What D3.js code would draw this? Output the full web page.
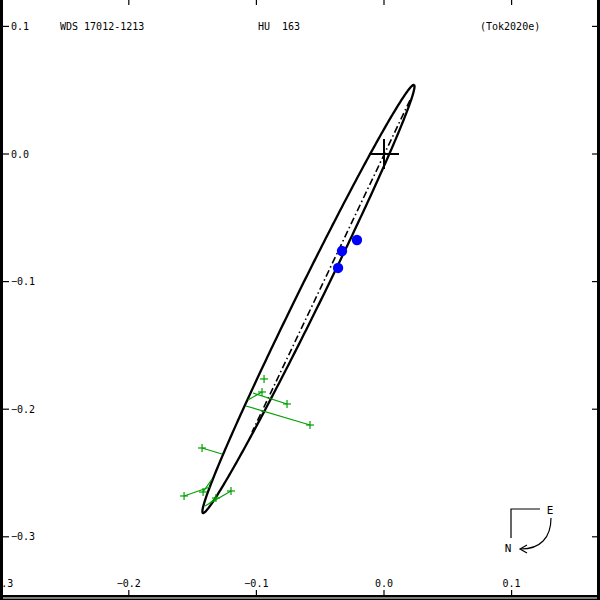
<!DOCTYPE html>
<html><head><meta charset="utf-8">
<script src="https://cdn.jsdelivr.net/npm/d3@7"></script>
<style>body{margin:0;background:#fff}svg{display:block}</style>
</head><body>
<script>
// ---- data ----
const xTicks = [-0.3, -0.2, -0.1, 0.0, 0.1];
const yTicks = [0.1, 0.0, -0.1, -0.2, -0.3];
const titleLabels = ["WDS 17012-1213", "HU  163", "(Tok2020e)"];
// apparent orbit ellipse (arcsec): centre, semi-axes, position angle of major axis (deg)
const orbitCenter = [-0.0592, -0.1136];
const orbitAxes = [0.1870, 0.00915];
const orbitAngle = 63.75;
// line of nodes endpoints
const nodeX = [0.0204, -0.1034];
const nodeY = [0.0423, -0.2179];
// recent measures (blue)
const blueX = [-0.0212, -0.0329, -0.0360];
const blueY = [-0.0674, -0.0760, -0.0893];
// older measures (green) and their predicted positions
const obsX  = [-0.0940, -0.0956, -0.0760, -0.0580, -0.1426, -0.1567, -0.1418, -0.1317, -0.1199];
const obsY  = [-0.1763, -0.1865, -0.1959, -0.2124, -0.2304, -0.2680, -0.2649, -0.2696, -0.2641];
const predX = [-0.0940, -0.1066, -0.1027, -0.1082, -0.1270, -0.1364, -0.1348, -0.1364, -0.1403];
const predY = [-0.1763, -0.1928, -0.1873, -0.1975, -0.2351, -0.2610, -0.2547, -0.2735, -0.2759];

// ---- drawing ----
const W = 600, H = 600;
const k = 1276;
const x = d3.scaleLinear().domain([-0.3, 0.1]).range([384 - 0.3 * k, 384 + 0.1 * k]);
const y = d3.scaleLinear().domain([-0.3, 0.1]).range([154 + 0.3 * k, 154 - 0.1 * k]);

const svg = d3.select("body").append("svg").attr("width", W).attr("height", H);
const font = "'DejaVu Sans Mono', monospace";

// frame
svg.append("rect").attr("x", 0).attr("y", 0).attr("width", 3).attr("height", 600).attr("fill", "#000");
svg.append("rect").attr("x", 597).attr("y", 0).attr("width", 3).attr("height", 600).attr("fill", "#000");
svg.append("rect").attr("x", 0).attr("y", 595).attr("width", 600).attr("height", 2.5).attr("fill", "#000");
svg.append("rect").attr("x", 0).attr("y", 598.5).attr("width", 600).attr("height", 1.5).attr("fill", "#000");

// ticks
const tk = svg.append("g").attr("stroke", "#000").attr("stroke-width", 1.2);
xTicks.forEach(v => {
  tk.append("line").attr("x1", x(v)).attr("x2", x(v)).attr("y1", 0).attr("y2", 5);
  tk.append("line").attr("x1", x(v)).attr("x2", x(v)).attr("y1", 590).attr("y2", 595);
});
yTicks.forEach(v => {
  tk.append("line").attr("x1", 3).attr("x2", 9).attr("y1", y(v)).attr("y2", y(v));
  tk.append("line").attr("x1", 592).attr("x2", 597).attr("y1", y(v)).attr("y2", y(v));
});
const fmt = d3.format(".1f");
svg.append("g").selectAll("text").data(xTicks).join("text")
  .attr("x", d => x(d)).attr("y", 587).attr("text-anchor", "middle")
  .attr("font-family", font).attr("font-size", 10).text(d => fmt(d));
svg.append("g").selectAll("text").data(yTicks).join("text")
  .attr("x", 11).attr("y", d => y(d) + 3.6)
  .attr("font-family", font).attr("font-size", 10).text(d => fmt(d));
// re-cover left border over clipped label
svg.append("rect").attr("x", 0).attr("y", 0).attr("width", 3).attr("height", 600).attr("fill", "#000");

// titles
const titleX = [60, 258, 480];
svg.append("g").selectAll("text").data(titleLabels).join("text")
  .attr("x", (d, i) => titleX[i]).attr("y", 30)
  .attr("font-family", font).attr("font-size", 10)
  .style("white-space", "pre").attr("xml:space", "preserve").text(d => d);

// orbit ellipse
const th = orbitAngle * Math.PI / 180;
const pts = d3.range(0, 361, 1).map(t => {
  const a = t * Math.PI / 180;
  const u = orbitAxes[0] * Math.cos(a), v = orbitAxes[1] * Math.sin(a);
  return [orbitCenter[0] + u * Math.cos(th) - v * Math.sin(th),
          orbitCenter[1] + u * Math.sin(th) + v * Math.cos(th)];
});
svg.append("path").datum(pts)
  .attr("d", d3.line().x(d => x(d[0])).y(d => y(d[1])))
  .attr("fill", "none").attr("stroke", "#000").attr("stroke-width", 2.3);

// line of nodes
svg.append("line").attr("x1", x(nodeX[0])).attr("y1", y(nodeY[0]))
  .attr("x2", x(nodeX[1])).attr("y2", y(nodeY[1]))
  .attr("stroke", "#000").attr("stroke-width", 1.6).attr("stroke-dasharray", "7,3,1.5,3");

// primary
const pg = svg.append("g").attr("stroke", "#000").attr("stroke-width", 2);
pg.append("line").attr("x1", x(0) - 15).attr("x2", x(0) + 15).attr("y1", y(0)).attr("y2", y(0));
pg.append("line").attr("x1", x(0)).attr("x2", x(0)).attr("y1", y(0) - 15).attr("y2", y(0) + 15);

// green residual lines and markers
const gg = svg.append("g").attr("stroke", "#00a000").attr("stroke-width", 1.2);
obsX.forEach((ox, i) => {
  gg.append("line").attr("x1", x(ox)).attr("y1", y(obsY[i])).attr("x2", x(predX[i])).attr("y2", y(predY[i]));
  gg.append("line").attr("x1", x(ox) - 4).attr("x2", x(ox) + 4).attr("y1", y(obsY[i])).attr("y2", y(obsY[i]));
  gg.append("line").attr("x1", x(ox)).attr("x2", x(ox)).attr("y1", y(obsY[i]) - 4).attr("y2", y(obsY[i]) + 4);
});

// blue measures
svg.append("g").selectAll("circle").data(blueX).join("circle")
  .attr("cx", d => x(d)).attr("cy", (d, i) => y(blueY[i])).attr("r", 5.2).attr("fill", "#0000ff");

// compass
const cg = svg.append("g").attr("stroke", "#000").attr("stroke-width", 1.2).attr("fill", "none");
cg.append("path").attr("d", "M540,509 H511 V538");
cg.append("path").attr("d", "M551,518 C551,538 540,549 521,549");
cg.append("path").attr("d", "M527,545 L520,549 L527,553");
svg.append("text").attr("x", 550).attr("y", 514).attr("text-anchor", "middle")
  .attr("font-family", font).attr("font-size", 11).text("E");
svg.append("text").attr("x", 508).attr("y", 552).attr("text-anchor", "middle")
  .attr("font-family", font).attr("font-size", 11).text("N");
</script>
</body></html>
